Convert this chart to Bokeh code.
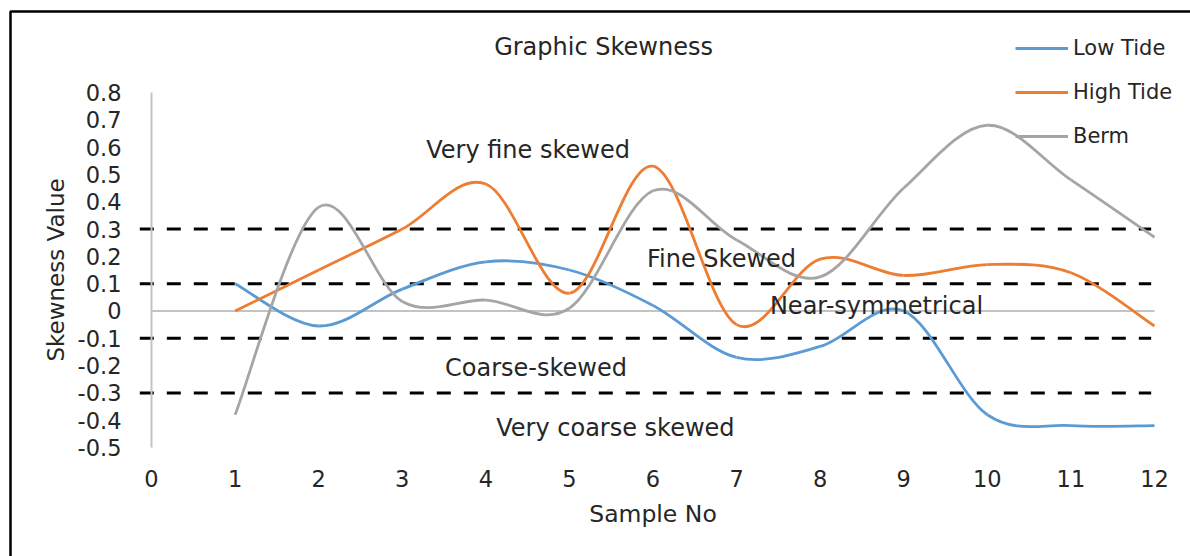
import numpy as np
from bokeh.plotting import figure
from bokeh.models import (Range1d, FixedTicker, Legend, LegendItem, Label,
                          ColumnDataSource)
from bokeh.core.properties import value
from bokeh.embed import file_html
from bokeh.resources import INLINE

# ---- data -------------------------------------------------------------
sample_no = [1, 2, 3, 4, 5, 6, 7, 8, 9, 10, 11, 12]
low_tide = [0.10, -0.055, 0.08, 0.18, 0.15, 0.02, -0.17, -0.13, 0.0, -0.38, -0.42, -0.42]
high_tide = [0.0, 0.15, 0.30, 0.465, 0.065, 0.53, -0.05, 0.19, 0.13, 0.17, 0.14, -0.055]
berm = [-0.38, 0.38, 0.035, 0.04, 0.01, 0.44, 0.26, 0.125, 0.45, 0.68, 0.48, 0.27]

series_names = ["Low Tide", "High Tide", "Berm"]

x_ticks = [0, 1, 2, 3, 4, 5, 6, 7, 8, 9, 10, 11, 12]
y_ticks = [-0.5, -0.4, -0.3, -0.2, -0.1, 0.0, 0.1, 0.2, 0.3, 0.4, 0.5, 0.6, 0.7, 0.8]
y_tick_labels = ["-0.5", "-0.4", "-0.3", "-0.2", "-0.1", "0", "0.1", "0.2",
                 "0.3", "0.4", "0.5", "0.6", "0.7", "0.8"]

# skewness class limits and class names
class_limits = [0.3, 0.1, -0.1, -0.3]
class_names = ["Very fine skewed", "Fine Skewed", "Near-symmetrical",
               "Coarse-skewed", "Very coarse skewed"]

# ---- layout -----------------------------------------------------------
W, H = 1190, 556
FONT = "DejaVu Sans"
TEXT = "#262626"
AXIS_GREY = "#c3c3c3"
COLORS = ["#5b9bd5", "#ed7d31", "#a5a5a5"]

# pixel anchors of the axes inside the canvas
X0_PX, X12_PX = 151, 1154
YTOP_PX, YBOT_PX = 92, 447
kx = (X12_PX - X0_PX) / (x_ticks[-1] - x_ticks[0])
ky = (YBOT_PX - YTOP_PX) / (y_ticks[-1] - y_ticks[0])

x_start = x_ticks[0] - X0_PX / kx
x_end = x_ticks[-1] + (W - X12_PX) / kx
y_end = y_ticks[-1] + YTOP_PX / ky
y_start = y_ticks[0] - (H - YBOT_PX) / ky


def px_x(px):
    return x_start + px / kx


def px_y(py):
    return y_end - py / ky


p = figure(width=W, height=H, output_backend="svg", toolbar_location=None,
           x_range=Range1d(x_start, x_end), y_range=Range1d(y_start, y_end),
           min_border=0, min_border_left=0, min_border_right=0,
           min_border_top=0, min_border_bottom=0)
p.outline_line_color = None
p.background_fill_color = "white"
p.border_fill_color = "white"
p.xgrid.visible = False
p.ygrid.visible = False

# axes pinned inside the frame
xa = p.xaxis[0]
xa.fixed_location = y_ticks[0]
xa.bounds = (x_ticks[0], x_ticks[-1])
xa.ticker = FixedTicker(ticks=x_ticks)
xa.axis_line_color = None
xa.major_tick_line_color = None
xa.minor_tick_line_color = None
xa.major_label_standoff = 16
xa.major_label_text_font = FONT
xa.major_label_text_font_size = "22.5px"
xa.major_label_text_color = TEXT
xa.axis_label = "Sample No"
xa.axis_label_text_font = FONT
xa.axis_label_text_font_size = "23.5px"
xa.axis_label_text_font_style = "normal"
xa.axis_label_text_color = TEXT
xa.axis_label_standoff = 10

ya = p.yaxis[0]
ya.fixed_location = x_ticks[0]
ya.bounds = (y_ticks[0], y_ticks[-1])
ya.ticker = FixedTicker(ticks=y_ticks)
ya.major_label_overrides = {t: s for t, s in zip(y_ticks, y_tick_labels)}
ya.axis_line_color = AXIS_GREY
ya.axis_line_width = 2
ya.major_tick_line_color = None
ya.minor_tick_line_color = None
ya.major_label_standoff = 24
ya.major_label_text_font = FONT
ya.major_label_text_font_size = "22.5px"
ya.major_label_text_color = TEXT
ya.axis_label = "Skewness Value"
ya.axis_label_text_font = FONT
ya.axis_label_text_font_size = "23px"
ya.axis_label_text_font_style = "normal"
ya.axis_label_text_color = TEXT
ya.axis_label_standoff = 6

# outer frame: top and left edges
p.line([px_x(W + 5), px_x(10), px_x(10)], [px_y(11), px_y(11), px_y(H + 5)],
       line_color="black", line_width=2.5)

# zero line
p.segment(x0=[x_ticks[0]], y0=[0], x1=[x_ticks[-1]], y1=[0],
          line_color=AXIS_GREY, line_width=2)

# class limits as dashed lines
p.segment(x0=[-0.14] * len(class_limits), y0=class_limits,
          x1=[11.96] * len(class_limits), y1=class_limits,
          line_color="black", line_width=3, line_dash="14 13")


def bezier_segments(xs, ys):
    """Cubic Bezier pieces (Catmull-Rom tangents) joining consecutive points."""
    n = len(xs)
    d = dict(x0=[], y0=[], x1=[], y1=[], cx0=[], cy0=[], cx1=[], cy1=[])
    for i in range(n - 1):
        a = max(i - 1, 0)
        b = min(i + 2, n - 1)
        d["x0"].append(xs[i]); d["y0"].append(ys[i])
        d["x1"].append(xs[i + 1]); d["y1"].append(ys[i + 1])
        d["cx0"].append(xs[i] + (xs[i + 1] - xs[a]) / 6)
        d["cy0"].append(ys[i] + (ys[i + 1] - ys[a]) / 6)
        d["cx1"].append(xs[i + 1] - (xs[b] - xs[i]) / 6)
        d["cy1"].append(ys[i + 1] - (ys[b] - ys[i]) / 6)
    return ColumnDataSource(d)


renderers = []
for vals, color in zip([low_tide, high_tide, berm], COLORS):
    r = p.bezier(x0="x0", y0="y0", x1="x1", y1="y1", cx0="cx0", cy0="cy0",
                 cx1="cx1", cy1="cy1", source=bezier_segments(sample_no, vals),
                 line_color=color, line_width=2.8)
    renderers.append(r)

# class names
label_src = ColumnDataSource(dict(
    x=[4.505, 6.82, 8.674, 4.6, 5.55],
    y=[0.588, 0.19, 0.018, -0.21, -0.427],
    text=class_names))
p.text(x="x", y="y", text="text", source=label_src,
       text_font=value(FONT), text_font_size="24px", text_color=TEXT,
       text_align="center", text_baseline="middle")

p.add_layout(Label(x=5.408, y=0.965, text="Graphic Skewness",
                   text_font=FONT, text_font_size="24px", text_color=TEXT,
                   text_align="center", text_baseline="middle"))

legend = Legend(items=[LegendItem(label=n, renderers=[r])
                       for n, r in zip(series_names, renderers)],
                location=(1015, H - 148), orientation="vertical",
                glyph_width=53, glyph_height=24, label_height=24, spacing=20,
                padding=0, margin=0, label_standoff=5,
                border_line_color=None, background_fill_alpha=0,
                label_text_font=FONT, label_text_font_size="21px",
                label_text_color=TEXT)
p.add_layout(legend)

open("out.html", "w").write(file_html(p, INLINE))
